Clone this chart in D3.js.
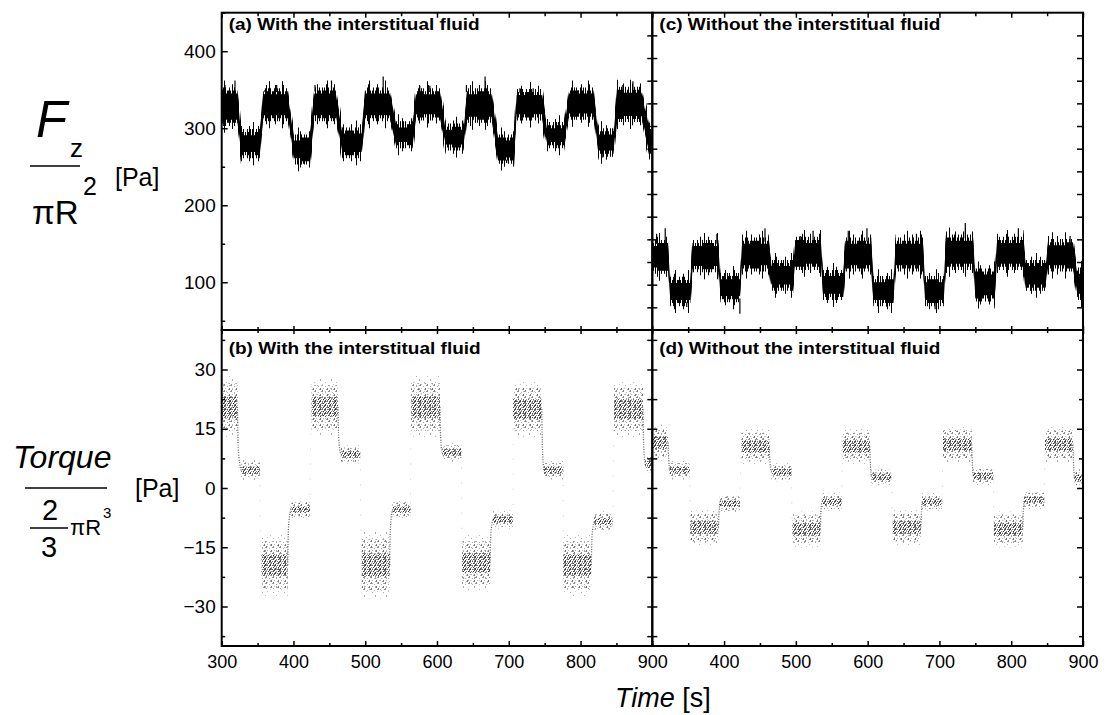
<!DOCTYPE html>
<html><head><meta charset="utf-8">
<script src="https://cdn.jsdelivr.net/npm/d3@7"></script>
<style>
body{margin:0;background:#fff}
svg{display:block}
text{font-family:"Liberation Sans",Arial,sans-serif;fill:#000}
</style></head>
<body><svg id="chart" width="1105" height="715"></svg>
<script>
// ---------------- data ----------------
const timeDomain = [300, 900];
const xTicksLeft = [300, 400, 500, 600, 700, 800, 900];
const xTicksRight = [400, 500, 600, 700, 800, 900];
const xMinorTicks = [350, 450, 550, 650, 750, 850];
const fzDomain = [38, 450];
const fzTicks = [100, 200, 300, 400];
const fzMinorTicks = [50, 150, 250, 350, 450];
const panelCTickDomain = [0, 14];
const panelCTicks = [1, 2, 3, 4, 5, 6, 7, 8, 9, 10, 11, 12, 13];
const torqueDomain = [-40, 40];
const torqueTicks = [-30, -15, 0, 15, 30];
const torqueMinorTicks = [-37.5, -22.5, -7.5, 7.5, 22.5, 37.5];
const panelTitles = ["(a) With the interstitual fluid", "(b) With the interstitual fluid",
                     "(c) Without the interstitual fluid", "(d) Without the interstitual fluid"];

// Fz/piR^2 bands: [t start, t end, low, high] (Pa)
const fzWithFluid = [
  [300,322,308,348],[327,353,266,294],[358,392,314,347],[401,423,258,287],
  [429,459,314,348],[468,495,266,296],[500,534,314,348],[543,566,279,304],
  [571,604,315,347],[612,637,276,301],[642,676,312,347],[685,707,259,287],
  [711,746,315,346],[753,777,279,303],[784,818,316,348],[825,846,268,295],
  [851,885,313,349],[896,900,268,298]
];
const fzWithFluidSpikes = [
  [304.6,356],[318.5,362],[360.3,350],[376.6,356],[430,356],[453,362],[525,367],
  [576,355],[590,355],[641,356],[667,367],[715.5,352],[734,352],[797,349],[859,356],
  [873,361],[414,254],[697,255],[831,262]
];
const fzWithoutFluid = [
  [300,322,116,150],[325,353,74,102],[356,392,118,150],[395,422,79,107],
  [425,462,119,153],[466,496,94,124],[499,535,121,154],[538,566,82,111],
  [569,605,119,153],[608,636,74,103],[639,677,119,153],[680,706,74,103],
  [709,747,121,157],[750,777,80,113],[780,817,121,154],[820,848,94,124],
  [851,886,119,151],[892,900,82,114]
];
const fzWithoutFluidSpikes = [
  [306,163],[318,170],[390,163],[457,170],[506,160],[524,167],[573,167],[599,170],
  [668,163],[736,177],[810,170],[882,160],[348,68],[422,59],[627,68],[694,65]
];
// Torque/(2/3 piR^3) plateaus: [t start, t end, centre, half spread] (Pa)
const torqueWithFluid = [
  [300,322,20.5,6],[327,353,4.5,2],[355,392,-19.5,6],[396,423,-5.5,1.8],
  [425,462,20.5,5.5],[466,493,8.5,1.8],[495,534,-19.5,6.5],[538,563,-5.5,1.8],
  [564,604,20.5,6],[607,634,9,1.8],[635,674,-19,5.5],[678,706,-8,1.8],
  [706,746,20,5.5],[749,776,4.5,1.8],[776,815,-19.5,6],[819,845,-8.5,2],
  [847,887,20,5.5],[890,900,6,2]
];
const torqueWithoutFluid = [
  [300,322,11.5,3.5],[324,352,4.5,1.8],[353,392,-10,3.5],[394,422,-4,1.8],
  [424,463,10.5,3.5],[466,494,4,1.8],[495,534,-10.5,3.5],[536,564,-3.5,1.8],
  [565,603,10.5,3.5],[605,633,2.8,1.8],[635,674,-10,3.5],[676,704,-3.5,1.8],
  [705,745,11,3.5],[747,775,3,1.8],[776,816,-10.5,3.5],[818,846,-3,1.8],
  [847,886,11,3.5],[888,900,2.5,1.8]
];

// ---------------- layout ----------------
const L = 221.7, M = 652.3, R = 1083, T = 12.7, MID = 330, B = 646;
const svg = d3.select("#chart");
const xLeft = d3.scaleLinear().domain(timeDomain).range([L, M]);
const xRight = d3.scaleLinear().domain(timeDomain).range([M, R]);
const yFz = d3.scaleLinear().domain(fzDomain).range([MID, T]);
const yC = d3.scaleLinear().domain(panelCTickDomain).range([MID, T]);
const yTq = d3.scaleLinear().domain(torqueDomain).range([B, MID]);

const defs = svg.append("defs");
function clip(id, x0, y0, x1, y1) {
  defs.append("clipPath").attr("id", id).append("rect")
    .attr("x", x0).attr("y", y0).attr("width", x1 - x0).attr("height", y1 - y0);
}
clip("ca", L, T, M, MID); clip("cb", L, MID, M, B);
clip("cc", M, T, R, MID); clip("cd", M, MID, R, B);

function pattern(id, w, h, dots) {
  const p = defs.append("pattern").attr("id", id).attr("patternUnits", "userSpaceOnUse")
    .attr("width", w).attr("height", h);
  dots.forEach(([x, y, c, hh]) => p.append("rect").attr("x", x).attr("y", y)
    .attr("width", 1).attr("height", hh || 1).attr("fill", c));
}
// hair textures for the dense force traces
pattern("hair1", 5, 4, [[0,0,"#000",4],[2,0,"#000",4],[3,0,"#000",4]]);
pattern("hair2", 9, 4, [[0,0,"#000",4],[4,0,"#000",4],[7,0,"#000",4]]);
pattern("hair3", 17, 4, [[3,0,"#000",4],[11,0,"#000",4]]);
pattern("hair4", 29, 4, [[8,0,"#000",4],[21,0,"#000",4]]);
// speckle textures for the torque scatter
pattern("spkFaint", 11, 9, [[1,1,"#aaa",2],[6,4,"#bbb"],[9,7,"#aaa"],[3,6,"#c4c4c4"]]);
pattern("spkLight", 7, 6, [[0,0,"#888",2],[3,2,"#aaa"],[5,4,"#777",2],[1,4,"#bbb"],[6,1,"#999"],[4,5,"#aaa"]]);
pattern("spkDark", 5, 4, [[0,0,"#444",2],[2,1,"#666"],[3,3,"#333"],[1,3,"#888"],[4,1,"#555",2]]);

// ---------------- Fz traces ----------------
function drawBand(g, x, data, spikes) {
  const pts = data.flatMap(d => [{t: d[0], lo: d[2], hi: d[3]}, {t: d[1], lo: d[2], hi: d[3]}]);
  const area = e => d3.area().x(p => x(p.t)).y0(p => yFz(p.lo + 3 - e)).y1(p => yFz(p.hi - 3 + e))(pts);
  [[17, "hair4"], [12, "hair3"], [8, "hair2"], [4, "hair1"]].forEach(([e, pat]) => {
    g.append("path").attr("d", area(e)).attr("fill", `url(#${pat})`);
  });
  g.append("path").attr("d", area(0)).attr("fill", "#000");
  spikes.forEach(([t, v]) => {
    let seg = data.find(d => t >= d[0] - 3 && t <= d[1] + 3);
    if (!seg) seg = data.reduce((a, d) => Math.abs((d[0] + d[1]) / 2 - t) < Math.abs((a[0] + a[1]) / 2 - t) ? d : a);
    const base = v > seg[3] ? seg[3] : seg[2];
    g.append("line").attr("x1", x(t)).attr("x2", x(t))
      .attr("y1", yFz(base)).attr("y2", yFz(v))
      .attr("stroke", "#000").attr("stroke-width", 1.2);
  });
}
drawBand(svg.append("g").attr("clip-path", "url(#ca)"), xLeft, fzWithFluid, fzWithFluidSpikes);
drawBand(svg.append("g").attr("clip-path", "url(#cc)"), xRight, fzWithoutFluid, fzWithoutFluidSpikes);

// ---------------- torque clusters ----------------
function drawTorque(g, x, data) {
  data.forEach((d, i) => {
    if (i === 0) return;
    const p = data[i - 1];
    const same = Math.sign(p[2]) === Math.sign(d[2]);
    const pts = [[x(p[1]), yTq(p[2])],
                 [x(p[1] + Math.min(1, (d[0] - p[1]) / 2)), yTq(d[2] + (p[2] - d[2]) * 0.35)],
                 [x(d[0]), yTq(d[2])]];
    g.append("path").attr("d", d3.line().curve(d3.curveMonotoneX)(pts))
      .attr("fill", "none")
      .attr("stroke", same ? "#666" : "#c8c8c8")
      .attr("stroke-width", same ? 1.3 : 1)
      .attr("stroke-dasharray", same ? "1 1.5" : "1 14");
  });
  const layers = [[1.3, "spkFaint"], [1, "spkLight"], [0.45, "spkDark"]];
  data.forEach(d => {
    layers.forEach(([f, pat]) => {
      g.append("rect")
        .attr("x", x(d[0])).attr("width", x(d[1]) - x(d[0]))
        .attr("y", yTq(d[2] + d[3] * f))
        .attr("height", yTq(d[2] - d[3] * f) - yTq(d[2] + d[3] * f))
        .attr("fill", `url(#${pat})`);
    });
  });
}
drawTorque(svg.append("g").attr("clip-path", "url(#cb)"), xLeft, torqueWithFluid);
drawTorque(svg.append("g").attr("clip-path", "url(#cd)"), xRight, torqueWithoutFluid);

// ---------------- axes / ticks ----------------
function ax(gen, vals, size, fmt, tx, ty, fontSize, pad) {
  const g = svg.append("g").attr("transform", `translate(${tx},${ty})`)
    .call(gen.tickValues(vals).tickSize(size).tickPadding(pad || 3).tickFormat(fmt || (() => "")));
  g.select(".domain").remove();
  g.selectAll("line").attr("stroke", "#000").attr("stroke-width", 1.5);
  g.selectAll("text").attr("font-size", fontSize || 18).attr("font-family", "Liberation Sans, Arial, sans-serif").attr("fill", "#000");
  return g;
}
const fmt = d3.format("d");
// top row
ax(d3.axisLeft(yFz), fzTicks, -6, fmt, L, 0, 19, 6);
ax(d3.axisLeft(yFz), fzMinorTicks, -3.5, null, L, 0);
ax(d3.axisLeft(yC), panelCTicks, 5, null, M, 0);
ax(d3.axisRight(yC), panelCTicks, 5, null, M, 0);
ax(d3.axisRight(yC), panelCTicks, -6, null, R, 0);
[xLeft, xRight].forEach(x => {
  ax(d3.axisTop(x), x === xLeft ? xTicksLeft : xTicksRight, -5, null, 0, T);
  ax(d3.axisTop(x), xMinorTicks, -3.5, null, 0, T);
  ax(d3.axisTop(x), x === xLeft ? xTicksLeft : xTicksRight, 4, null, 0, MID);
  ax(d3.axisBottom(x), x === xLeft ? xTicksLeft : xTicksRight, 4, null, 0, MID);
  ax(d3.axisBottom(x), xMinorTicks, 3, null, 0, MID);
  ax(d3.axisTop(x), xMinorTicks, 3, null, 0, MID);
});
// bottom row
ax(d3.axisLeft(yTq), torqueTicks, -6, fmt, L, 0, 19, 6);
ax(d3.axisLeft(yTq), torqueMinorTicks, -3.5, null, L, 0);
ax(d3.axisLeft(yTq), torqueTicks.concat(torqueMinorTicks), 5, null, M, 0);
ax(d3.axisRight(yTq), torqueTicks.concat(torqueMinorTicks), 5, null, M, 0);
ax(d3.axisRight(yTq), torqueTicks, -6, null, R, 0);
ax(d3.axisRight(yTq), torqueMinorTicks, -4, null, R, 0);
ax(d3.axisBottom(xLeft), xTicksLeft, -5, fmt, 0, B, 18, 9);
ax(d3.axisBottom(xRight), xTicksRight, -5, fmt, 0, B, 18, 9);
ax(d3.axisBottom(xLeft), xMinorTicks, -3, null, 0, B);
ax(d3.axisBottom(xRight), xMinorTicks, -3, null, 0, B);

// frames
[[L, T, M, MID], [M, T, R, MID], [L, MID, M, B], [M, MID, R, B]].forEach(([x0, y0, x1, y1]) => {
  svg.append("rect").attr("x", x0).attr("y", y0).attr("width", x1 - x0).attr("height", y1 - y0)
    .attr("fill", "none").attr("stroke", "#000").attr("stroke-width", 2);
});

// panel titles
[[panelTitles[0], L + 7, 30, 251], [panelTitles[1], L + 7, 354, 252],
 [panelTitles[2], M + 7, 30, 281], [panelTitles[3], M + 7, 354, 281]].forEach(([s, x, y, w]) => {
  svg.append("text").attr("x", x).attr("y", y).attr("font-size", 16).attr("font-weight", "bold")
    .attr("textLength", w).attr("lengthAdjust", "spacingAndGlyphs").text(s);
});

// y label top:  F_z / piR^2 [Pa]
const lt = svg.append("g");
lt.append("text").attr("x", 36).attr("y", 137).attr("font-size", 51).attr("font-style", "italic").text("F");
lt.append("text").attr("x", 70).attr("y", 157).attr("font-size", 26).text("z");
lt.append("line").attr("x1", 30).attr("x2", 80).attr("y1", 166).attr("y2", 166).attr("stroke", "#000").attr("stroke-width", 1.5);
lt.append("text").attr("x", 32).attr("y", 224).attr("font-size", 33).text("\u03C0R");
lt.append("text").attr("x", 83).attr("y", 195).attr("font-size", 25).text("2");
lt.append("text").attr("x", 115).attr("y", 186).attr("font-size", 25).text("[Pa]");

// y label bottom: Torque / (2/3 piR^3) [Pa]
const lb = svg.append("g");
lb.append("text").attr("x", 13).attr("y", 468).attr("font-size", 32).attr("font-style", "italic").text("Torque");
lb.append("line").attr("x1", 25).attr("x2", 107).attr("y1", 488).attr("y2", 488).attr("stroke", "#000").attr("stroke-width", 1.5);
lb.append("text").attr("x", 42).attr("y", 520).attr("font-size", 29).text("2");
lb.append("line").attr("x1", 30).attr("x2", 68).attr("y1", 528).attr("y2", 528).attr("stroke", "#000").attr("stroke-width", 1.5);
lb.append("text").attr("x", 41).attr("y", 557).attr("font-size", 29).text("3");
lb.append("text").attr("x", 70).attr("y", 535).attr("font-size", 22).text("\u03C0R");
lb.append("text").attr("x", 103).attr("y", 518).attr("font-size", 15).text("3");
lb.append("text").attr("x", 135).attr("y", 497).attr("font-size", 25).text("[Pa]");

// x label
const xl = svg.append("text").attr("x", 615).attr("y", 707).attr("font-size", 27);
xl.append("tspan").attr("font-style", "italic").text("Time");
xl.append("tspan").text(" [s]");
</script>
</body></html>
